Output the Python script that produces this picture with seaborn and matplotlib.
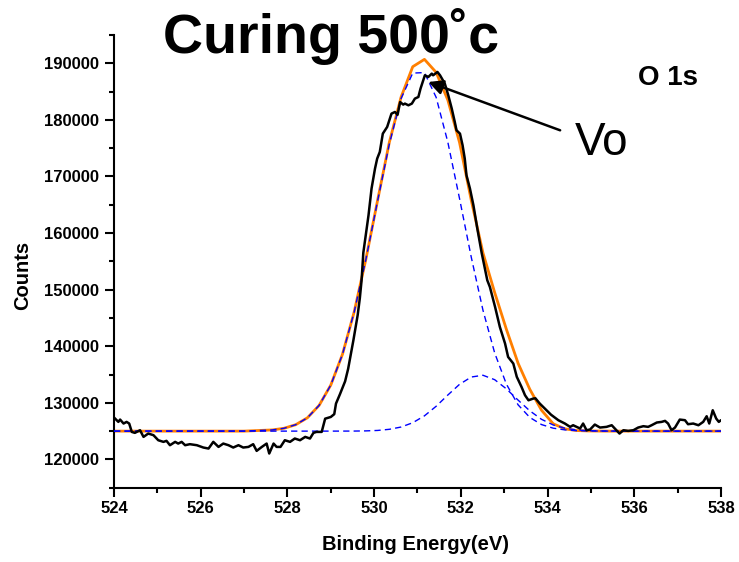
import matplotlib
matplotlib.use("Agg")
import matplotlib.pyplot as plt
import seaborn as sns
from matplotlib.ticker import MultipleLocator

# ---------------- data ----------------
energy_raw = [524.00, 524.10, 524.14, 524.22, 524.29, 524.35, 524.41, 524.48, 524.60, 524.68,
              524.79, 524.91, 525.02, 525.14, 525.21, 525.29, 525.41, 525.48, 525.56, 525.64,
              525.75, 525.91, 526.06, 526.18, 526.29, 526.41, 526.52, 526.64, 526.75, 526.87,
              526.98, 527.10, 527.21, 527.29, 527.41, 527.52, 527.58, 527.68, 527.75, 527.84,
              527.94, 528.06, 528.17, 528.29, 528.41, 528.52, 528.60, 528.67, 528.79, 528.87,
              529.00, 529.08, 529.12, 529.21, 529.33, 529.40, 529.52, 529.62, 529.67, 529.71,
              529.75, 529.87, 529.94, 530.02, 530.07, 530.13, 530.20, 530.30, 530.40, 530.48,
              530.54, 530.60, 530.67, 530.71, 530.79, 530.87, 530.94, 531.02, 531.07, 531.17,
              531.25, 531.33, 531.36, 531.46, 531.52, 531.63, 531.71, 531.79, 531.86, 531.90,
              531.98, 532.04, 532.09, 532.13, 532.21, 532.29, 532.38, 532.48, 532.61, 532.67,
              532.79, 532.90, 533.02, 533.09, 533.21, 533.29, 533.40, 533.48, 533.56, 533.67,
              533.72, 533.82, 533.96, 534.08, 534.25, 534.40, 534.52, 534.59, 534.67, 534.75,
              534.82, 534.90, 534.98, 535.09, 535.21, 535.36, 535.48, 535.55, 535.66, 535.75,
              535.86, 535.98, 536.09, 536.21, 536.32, 536.40, 536.52, 536.63, 536.71, 536.78,
              536.86, 536.94, 537.05, 537.17, 537.24, 537.36, 537.48, 537.59, 537.67, 537.73,
              537.81, 537.89, 537.95, 538.00]
counts_raw = [127400, 126630, 127040, 126340, 126630, 126340, 124860, 124690, 125160, 123980,
              124570, 124280, 123390, 123100, 123280, 122510, 123100, 122800, 123100, 122510,
              122690, 122510, 122100, 121920, 123100, 122210, 122800, 122510, 122100, 122510,
              122100, 122210, 122690, 121510, 122210, 122800, 121040, 122800, 122210, 122210,
              123390, 123100, 123690, 123390, 123980, 123690, 124690, 124860, 124860, 127200,
              127500, 128000, 129870, 131500, 133800, 136000, 141000, 145500, 148500, 151650,
              156500, 163140, 167860, 171400, 173160, 174330, 177570, 178750, 181110, 181400,
              180900, 183160, 182700, 182880, 182580, 182880, 183760, 184050, 185530, 187880,
              187590, 188180, 187880, 188470, 187880, 186410, 184350, 182000, 179630, 178160,
              177570, 175510, 173160, 170210, 167860, 164910, 160790, 156500, 151650, 150470,
              146930, 143400, 140470, 138110, 136940, 134600, 132800, 131340, 130450, 130750,
              130800, 129870, 128800, 127900, 126920, 126340, 125750, 126040, 125750, 125460,
              126340, 125160, 125280, 126160, 125630, 125750, 126040, 125460, 124570, 125160,
              125040, 125160, 125630, 125870, 125750, 126040, 126520, 126630, 126810, 126340,
              125160, 125630, 127040, 126930, 126220, 126340, 126040, 126630, 127630, 126340,
              128690, 127220, 126630, 126930]

energy_fit = [524.00, 527.00, 527.65, 527.92, 528.19, 528.46, 528.73, 529.00, 529.27, 529.54,
              529.81, 530.08, 530.35, 530.62, 530.89, 531.16, 531.43, 531.70, 531.97, 532.24,
              532.51, 532.78, 533.05, 533.32, 533.59, 533.86, 534.13, 534.40, 534.67, 534.94,
              535.21, 535.48, 536.00, 537.00, 538.00]
fit_sum = [125000, 125000, 125210, 125500, 126130, 127350, 129540, 133140, 138590, 146080,
           155400, 165810, 176030, 184000, 189400, 190700, 188400, 183500, 176000, 165800,
           156500, 149500, 143000, 137000, 132400, 128700, 126300, 125400, 125100, 125030,
           125010, 125000, 125000, 125000, 125000]
peak1 = [125000, 125000, 125210, 125500, 126130, 127350, 129540, 133140, 138580, 146060,
         155360, 165690, 175710, 183750, 188270, 188360, 183990, 176050, 166080, 155740,
         146370, 138820, 133310, 129650, 127420, 126160, 125520, 125220, 125080, 125030,
         125010, 125000, 125000, 125000, 125000]
peak2 = [125000, 125000, 125000, 125000, 125000, 125000, 125000, 125000, 125005, 125010,
         125040, 125120, 125320, 125720, 126480, 127700, 129390, 131380, 133270, 134560,
         134870, 134090, 132470, 130480, 128590, 127090, 126090, 125510, 125210, 125080,
         125030, 125010, 125000, 125000, 125000]

xtick_vals = [524, 526, 528, 530, 532, 534, 536, 538]
ytick_vals = [120000, 130000, 140000, 150000, 160000, 170000, 180000, 190000]

# ---------------- style ----------------
sns.set_style("ticks")
plt.rcParams["font.family"] = ["Liberation Sans", "DejaVu Sans"]
plt.rcParams["lines.scale_dashes"] = False
plt.rcParams["text.color"] = "black"
plt.rcParams["axes.labelcolor"] = "black"
plt.rcParams["axes.edgecolor"] = "black"
plt.rcParams["xtick.color"] = "black"
plt.rcParams["ytick.color"] = "black"

fig = plt.figure(figsize=(7.39, 5.62), dpi=100)
ax = fig.add_axes([0.1543, 0.1322, 0.8213, 0.8055])

sns.lineplot(x=energy_fit, y=fit_sum, ax=ax, color="#FF7F00", linewidth=2.0,
             estimator=None, errorbar=None, zorder=2)
sns.lineplot(x=energy_fit, y=peak1, ax=ax, color="#0000FF", linewidth=1.0,
             estimator=None, errorbar=None, zorder=3)
ax.lines[-1].set_dashes((4.5, 3))
sns.lineplot(x=energy_fit, y=peak2, ax=ax, color="#0000FF", linewidth=1.0,
             estimator=None, errorbar=None, zorder=3)
ax.lines[-1].set_dashes((4.5, 3))
sns.lineplot(x=energy_raw, y=counts_raw, ax=ax, color="black", linewidth=1.8,
             estimator=None, errorbar=None, zorder=4)

ax.set_xlim(524, 538)
ax.set_ylim(115000, 195000)
sns.despine(ax=ax)
for s in ("left", "bottom"):
    ax.spines[s].set_linewidth(1.5)
    ax.spines[s].set_color("black")

ax.set_xticks(xtick_vals)
ax.set_xticklabels([str(v) for v in xtick_vals], fontweight="bold", fontsize=12)
ax.set_yticks(ytick_vals)
ax.set_yticklabels([str(v) for v in ytick_vals], fontweight="bold", fontsize=12)
ax.xaxis.set_minor_locator(MultipleLocator(1))
ax.yaxis.set_minor_locator(MultipleLocator(5000))
ax.tick_params(which="major", length=6.5, width=1.5, direction="out", pad=3,
               colors="black")
ax.tick_params(which="minor", length=3.5, width=1.5, direction="out", colors="black")
ax.tick_params(axis="y", which="major", pad=4)

ax.set_xlabel("Binding Energy(eV)", fontsize=14.5, fontweight="bold")
ax.xaxis.set_label_coords(0.4975, -0.105)
ax.xaxis.label.set_va("top")
ax.set_ylabel("Counts", fontsize=14.5, fontweight="bold")
ax.yaxis.set_label_coords(-0.135, 0.47)

ax.annotate("", xy=(531.25, 186700), xytext=(534.29, 178160),
            arrowprops=dict(arrowstyle="-|>", color="black", lw=1.8,
                            mutation_scale=22, shrinkA=0, shrinkB=0), zorder=5)

fig.text(0.448, 0.906, "Curing 500\u02dac", ha="center", va="baseline",
         fontsize=40, fontweight="bold", color="black")
fig.text(0.863, 0.849, "O 1s", ha="left", va="baseline", fontsize=20,
         fontweight="bold", color="black")
fig.text(575 / 739, 1 - 155 / 562, "Vo", ha="left", va="baseline", fontsize=33,
         color="black")

fig.savefig("out.png", dpi=100)
